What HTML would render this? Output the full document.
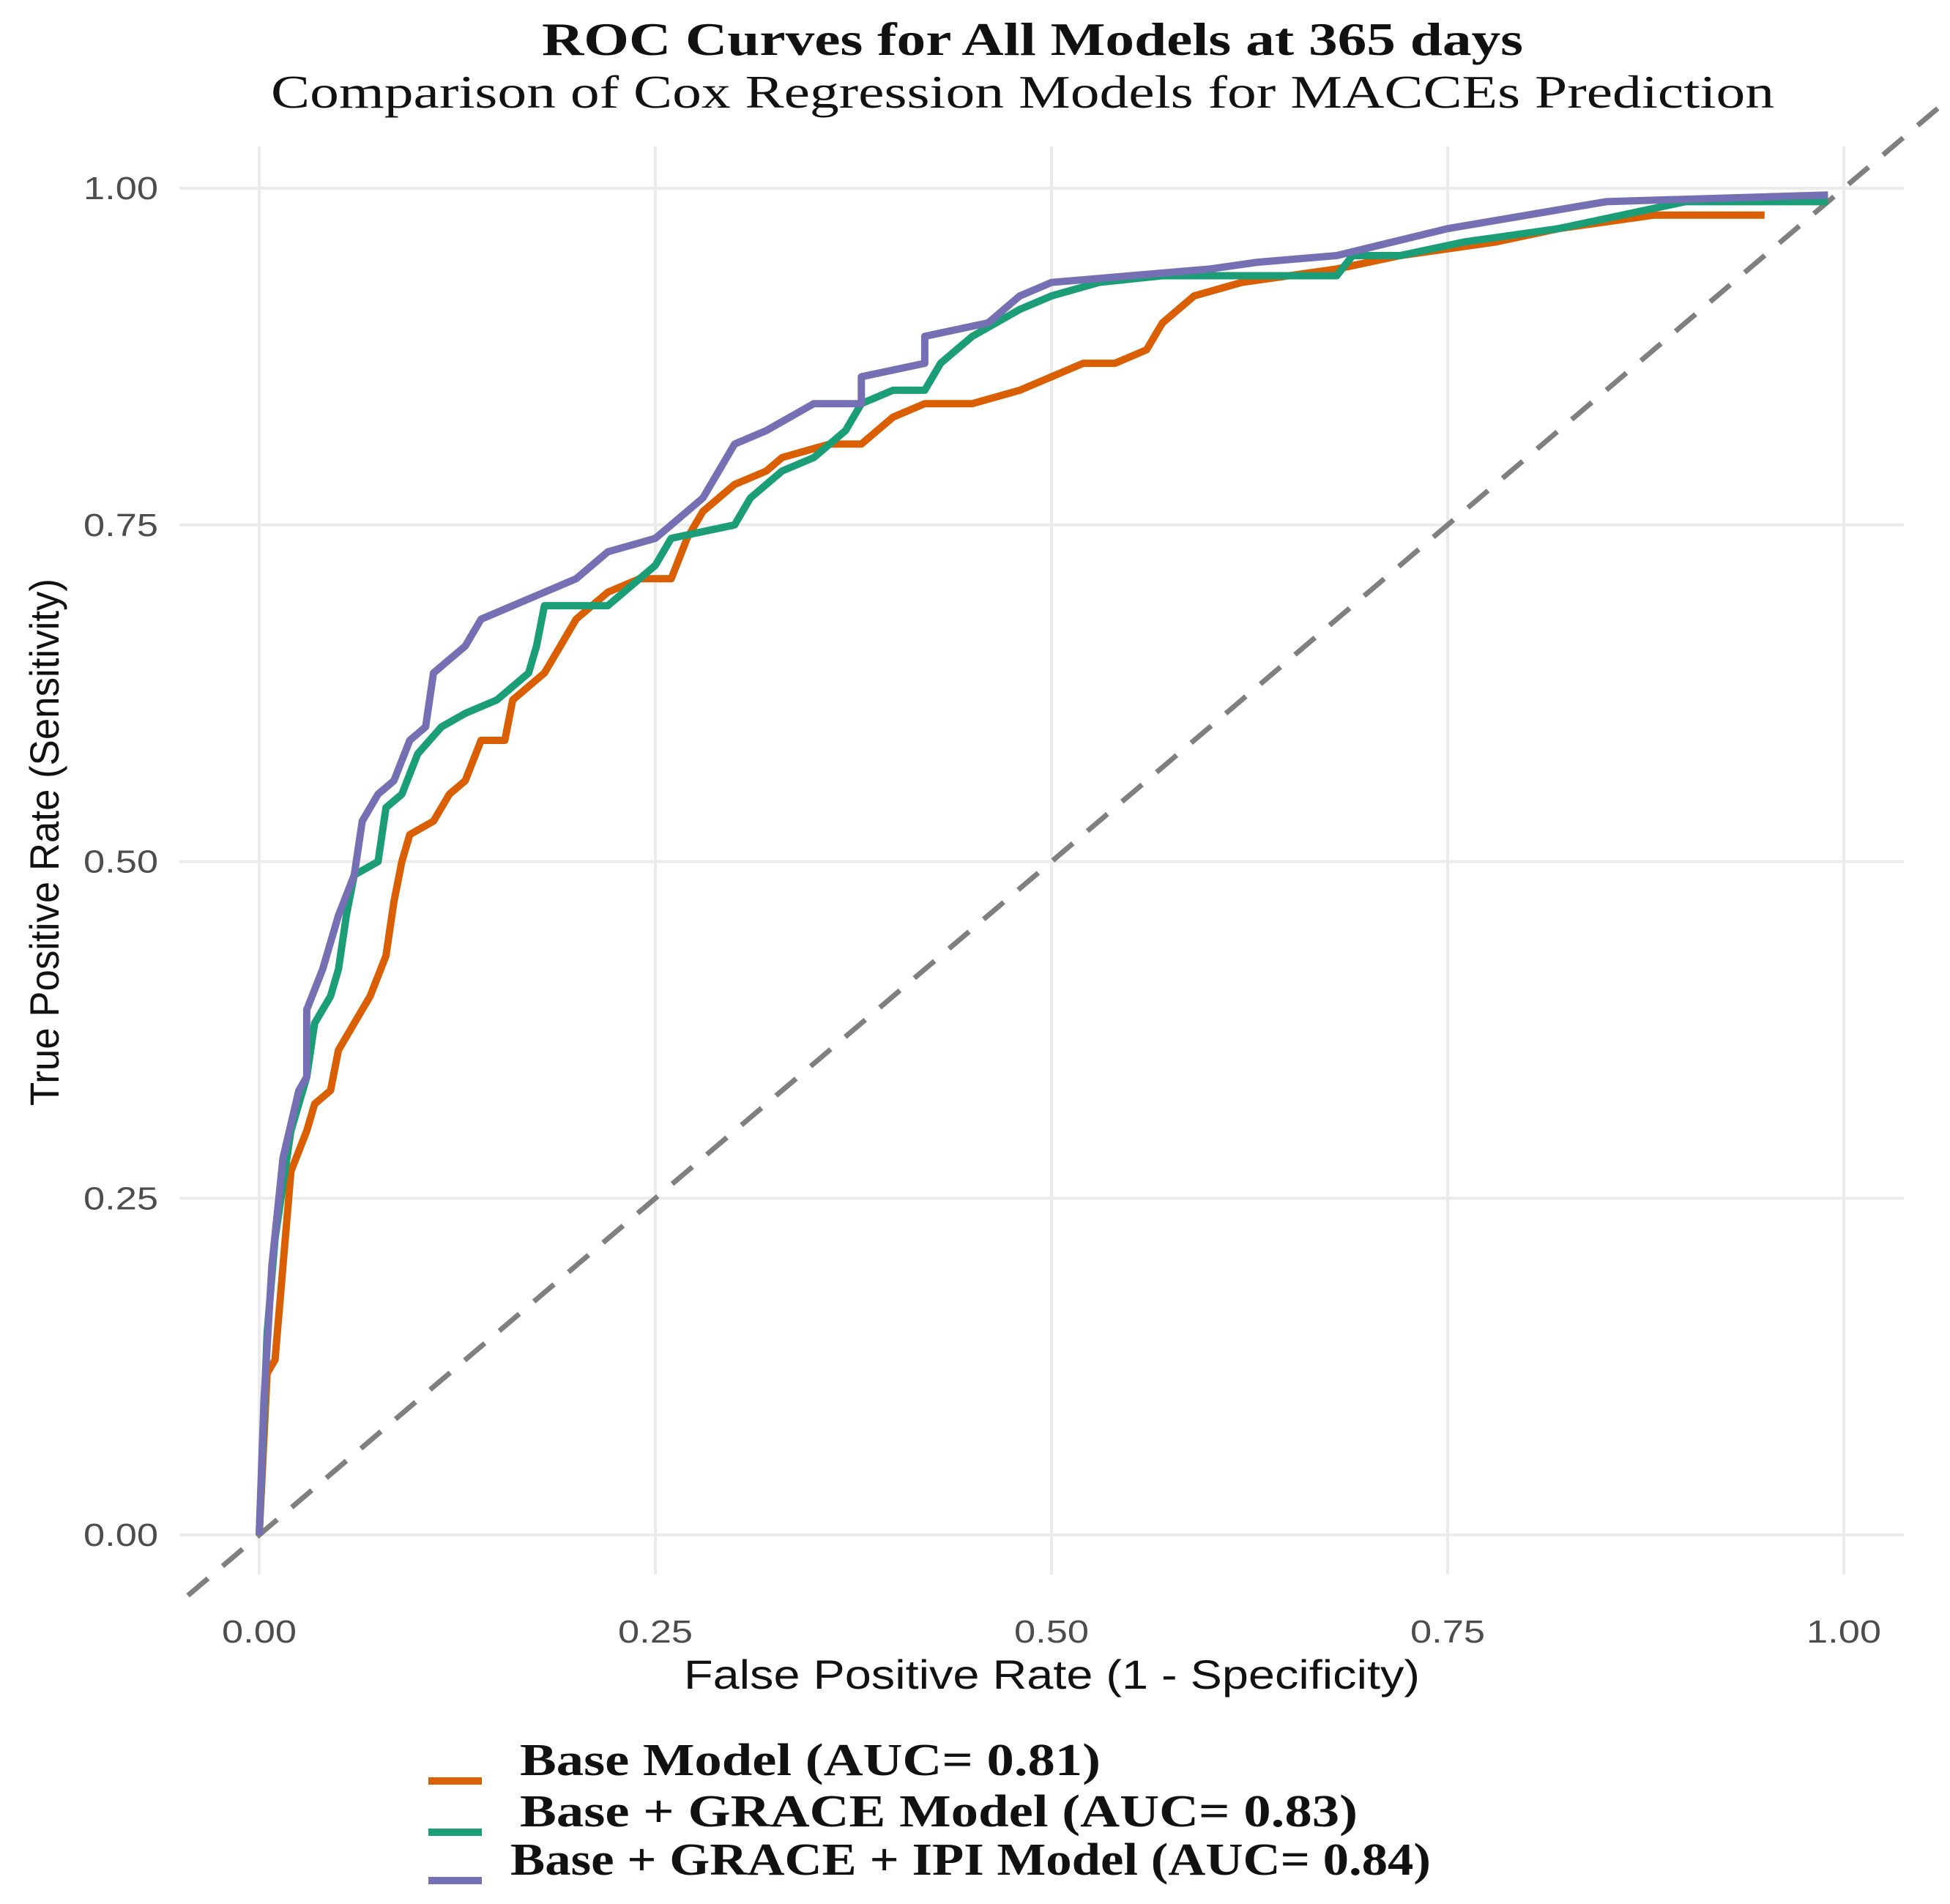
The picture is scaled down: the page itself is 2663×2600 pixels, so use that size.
<!DOCTYPE html>
<html><head><meta charset="utf-8"><style>
html,body{margin:0;padding:0;background:#fff}
svg{display:block}
</style></head><body>
<svg id="chart" width="2663" height="2600" viewBox="0 0 2663 2600" xmlns="http://www.w3.org/2000/svg">
<text x="740" y="75" textLength="1340" lengthAdjust="spacingAndGlyphs" font-family="Liberation Serif, serif" font-weight="bold" font-size="64" fill="#111">ROC Curves for All Models at 365 days</text>
<text x="370" y="147" textLength="2053" lengthAdjust="spacingAndGlyphs" font-family="Liberation Serif, serif" font-size="64" fill="#111">Comparison of Cox Regression Models for MACCEs Prediction</text>
<g id="grid"></g>
<g id="ticks"></g>
<g id="series"></g>
<text x="0" y="0" transform="translate(80,1150) rotate(-90)" text-anchor="middle" textLength="720" lengthAdjust="spacingAndGlyphs" font-family="Liberation Sans, sans-serif" font-size="56" fill="#111">True Positive Rate (Sensitivity)</text>
<text x="934" y="2306" textLength="1005" lengthAdjust="spacingAndGlyphs" font-family="Liberation Sans, sans-serif" font-size="56" fill="#111">False Positive Rate (1 - Specificity)</text>
<g id="legend"></g>
</svg>
<script>
const xTicks=[0,0.25,0.5,0.75,1];
const yTicks=[0,0.25,0.5,0.75,1];
const tickLabels=["0.00","0.25","0.50","0.75","1.00"];
const seriesNames=["Base Model (AUC= 0.81)","Base + GRACE Model (AUC= 0.83)","Base + GRACE + IPI Model (AUC= 0.84)"];
const baseFpr=[0,0.005,0.01,0.015,0.02,0.03,0.035,0.045,0.05,0.06,0.07,0.08,0.085,0.09,0.095,0.11,0.12,0.13,0.14,0.155,0.16,0.18,0.19,0.2,0.22,0.24,0.26,0.27,0.28,0.3,0.32,0.33,0.36,0.38,0.4,0.42,0.45,0.48,0.5,0.52,0.54,0.56,0.57,0.59,0.62,0.68,0.72,0.78,0.82,0.88,0.95];
const baseTpr=[0,0.12,0.13,0.2,0.27,0.3,0.32,0.33,0.36,0.38,0.4,0.43,0.47,0.5,0.52,0.53,0.55,0.56,0.59,0.59,0.62,0.64,0.66,0.68,0.7,0.71,0.71,0.74,0.76,0.78,0.79,0.8,0.81,0.81,0.83,0.84,0.84,0.85,0.86,0.87,0.87,0.88,0.9,0.92,0.93,0.94,0.95,0.96,0.97,0.98,0.98];
const graceFpr=[0,0.005,0.01,0.02,0.03,0.035,0.045,0.05,0.055,0.06,0.075,0.08,0.09,0.1,0.115,0.13,0.15,0.17,0.175,0.18,0.22,0.24,0.25,0.26,0.3,0.31,0.33,0.35,0.37,0.38,0.4,0.42,0.43,0.45,0.48,0.5,0.53,0.57,0.62,0.68,0.69,0.72,0.76,0.82,0.9,0.99];
const graceTpr=[0,0.15,0.22,0.3,0.34,0.38,0.4,0.42,0.46,0.49,0.5,0.54,0.55,0.58,0.6,0.61,0.62,0.64,0.66,0.69,0.69,0.71,0.72,0.74,0.75,0.77,0.79,0.8,0.82,0.84,0.85,0.85,0.87,0.89,0.91,0.92,0.93,0.935,0.935,0.935,0.95,0.95,0.96,0.97,0.99,0.99];
const ipiFpr=[0,0.003,0.008,0.015,0.025,0.03,0.03,0.04,0.05,0.06,0.065,0.075,0.085,0.095,0.105,0.11,0.12,0.13,0.14,0.16,0.18,0.2,0.22,0.25,0.26,0.28,0.29,0.3,0.32,0.35,0.38,0.38,0.42,0.42,0.46,0.48,0.5,0.55,0.6,0.63,0.68,0.75,0.8,0.85,0.99];
const ipiTpr=[0,0.1,0.2,0.28,0.33,0.34,0.39,0.42,0.46,0.49,0.53,0.55,0.56,0.59,0.6,0.64,0.65,0.66,0.68,0.69,0.7,0.71,0.73,0.74,0.75,0.77,0.79,0.81,0.82,0.84,0.84,0.86,0.87,0.89,0.9,0.92,0.93,0.935,0.94,0.945,0.95,0.97,0.98,0.99,0.995];
const colors=["#d95f02","#1b9e77","#7570b3"];
const NS="http://www.w3.org/2000/svg";
const X0=354,X1=2518,Y0=2096,Y1=257;
function sx(v){return X0+(X1-X0)*v;}
function sy(v){return Y0-(Y0-Y1)*v;}
function mk(tag,attrs,parent){const e=document.createElementNS(NS,tag);for(const k in attrs)e.setAttribute(k,attrs[k]);parent.appendChild(e);return e;}
const grid=document.getElementById('grid'),ticks=document.getElementById('ticks'),series=document.getElementById('series'),legend=document.getElementById('legend');
xTicks.forEach((t,i)=>{
  const l=mk('line',{x1:sx(t),x2:sx(t),y1:200,y2:2150,stroke:'#ebebeb','stroke-width':4},grid);
  
  
  const tx=mk('text',{x:sx(t)-51,y:2243,textLength:102,lengthAdjust:'spacingAndGlyphs','font-family':'Liberation Sans, sans-serif','font-size':44,fill:'#4d4d4d'},ticks);
  tx.textContent=tickLabels[i];
  
  
});
yTicks.forEach((t,i)=>{
  const l=mk('line',{x1:245,x2:2600,y1:sy(t),y2:sy(t),stroke:'#ebebeb','stroke-width':4},grid);
  
  
  const tx=mk('text',{x:114,y:sy(t)+15,textLength:102,lengthAdjust:'spacingAndGlyphs','font-family':'Liberation Sans, sans-serif','font-size':44,fill:'#4d4d4d'},ticks);
  tx.textContent=tickLabels[i];
  
  
});
const diag=mk('line',{x1:sx(-0.045),y1:sy(-0.045),x2:sx(1.07),y2:sy(1.07),stroke:'#7f7f7f','stroke-width':7,'stroke-dasharray':'36 26'},series);


const data=[[baseFpr,baseTpr],[graceFpr,graceTpr],[ipiFpr,ipiTpr]];
const names=['base-model-curve','grace-model-curve','ipi-model-curve'];
data.forEach((d,i)=>{
  const pts=d[0].map((x,j)=>sx(x).toFixed(1)+','+sy(d[1][j]).toFixed(1)).join(' ');
  const p=mk('polyline',{points:pts,fill:'none',stroke:colors[i],'stroke-width':10,'stroke-linejoin':'round'},series);
  
  
});
const ly=[2432,2502,2568];
const lx=[710,710,697];
const lw=[793,1144,1257];
seriesNames.forEach((n,i)=>{
  const g=mk('g',{},legend);
  
  
  mk('line',{x1:585,x2:658,y1:ly[i],y2:ly[i],stroke:colors[i],'stroke-width':10},g);
  const t=mk('text',{x:lx[i],y:ly[i]-8,textLength:lw[i],lengthAdjust:'spacingAndGlyphs','font-family':'Liberation Serif, serif','font-weight':'bold','font-size':62,fill:'#111'},g);
  t.textContent=n;
});
</script>
</body></html>
